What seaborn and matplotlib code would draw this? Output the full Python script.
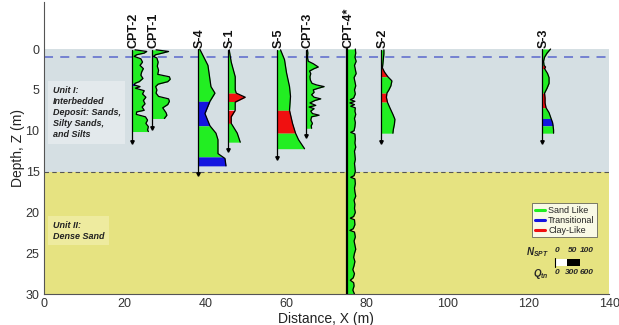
import numpy as np
import matplotlib
matplotlib.use('Agg')
import matplotlib.pyplot as plt
from matplotlib.lines import Line2D
import seaborn as sns

sns.set_style('white')
plt.rcParams['font.family'] = ['Liberation Sans', 'DejaVu Sans']
plt.rcParams['mathtext.fontset'] = 'custom'
plt.rcParams['mathtext.it'] = 'Liberation Sans:italic:bold'
plt.rcParams['mathtext.rm'] = 'Liberation Sans:italic:bold'

# ---- data ---------------------------------------------------------------
# SPT profiles: depth (m), N_SPT ; CPT profiles: depth (m), Q_tn
s4_x = 38.2
s4_z = [0.0, 2.0, 4.6, 5.4, 6.4, 7.9, 9.4, 10.3, 11.1, 12.8, 13.4, 14.3]
s4_n = [7, 40, 52, 68, 48, 28, 48, 72, 80, 80, 108, 112]
s4_cls = [(0.0, 6.4, 'sand'), (6.4, 9.4, 'trans'), (9.4, 13.2, 'sand'), (13.2, 14.3, 'trans')]

s1_x = 45.7
s1_z = [0.1, 1.6, 3.4, 5.0, 5.4, 5.9, 6.5, 7.5, 8.3, 9.1, 10.3, 11.4]
s1_n = [4, 12, 28, 28, 32, 68, 28, 28, 12, 12, 36, 48]
s1_cls = [(0.1, 5.4, 'sand'), (5.4, 6.5, 'clay'), (6.5, 7.5, 'sand'), (7.5, 9.1, 'clay'), (9.1, 11.4, 'sand')]

s5_x = 57.9
s5_z = [0.1, 1.3, 2.9, 4.6, 5.8, 7.5, 9.1, 10.3, 11.1, 12.2]
s5_n = [12, 28, 36, 48, 52, 48, 60, 72, 84, 108]
s5_cls = [(0.1, 7.5, 'sand'), (7.5, 10.3, 'clay'), (10.3, 12.2, 'sand')]

s2_x = 83.5
s2_z = [0.1, 0.6, 1.2, 1.8, 2.3, 2.8, 3.4, 3.9, 4.5, 5.0, 5.4, 5.9, 6.5, 7.2, 8.0, 8.6, 9.2, 9.8, 10.3]
s2_n = [12, 12, 10, 8, 6, 14, 28, 44, 40, 32, 24, 22, 26, 36, 48, 56, 54, 50, 48]
s2_cls = [(0.1, 2.3, 'sand'), (2.3, 3.4, 'clay'), (3.4, 5.4, 'sand'), (5.4, 6.5, 'clay'), (6.5, 10.3, 'sand')]

s3_x = 123.4
s3_z = [0.0, 0.5, 1.0, 1.5, 2.0, 2.2, 2.4, 3.0, 3.5, 4.2, 4.8, 5.4, 6.0, 6.6, 7.2, 7.8, 8.5, 9.0, 9.4, 9.9, 10.3]
s3_n = [34, 20, 10, 6, 8, 14, 10, 22, 28, 28, 20, 10, 12, 12, 16, 28, 36, 42, 44, 46, 46]
s3_cls = [(0.0, 2.0, 'sand'), (2.0, 2.4, 'clay'), (2.4, 5.4, 'sand'), (5.4, 7.2, 'clay'),
          (7.2, 8.5, 'sand'), (8.5, 9.4, 'trans'), (9.4, 10.3, 'sand')]

cpt2_x = 21.8
cpt2_z = [0.1, 0.3, 0.5, 0.7, 0.9, 1.2, 1.6, 2.0, 2.4, 2.8, 3.2, 3.6, 4.0, 4.2, 4.4, 4.6,
          4.8, 5.1, 5.5, 5.9, 6.3, 6.7, 7.1, 7.5, 7.7, 8.0, 8.3, 8.7, 9.1, 9.5, 9.9, 10.1]
cpt2_q = [80, 360, 300, 120, 60, 220, 260, 200, 280, 240, 220, 270, 180, 80, 60, 200,
          90, 300, 260, 340, 280, 320, 250, 300, 120, 110, 330, 380, 340, 400, 380, 400]
cpt2_cls = [(0.1, 4.2, 'sand'), (4.2, 4.5, 'trans'), (4.5, 10.1, 'sand')]

cpt1_x = 26.8
cpt1_z = [0.1, 0.3, 0.5, 0.7, 0.9, 1.1, 1.6, 2.1, 2.6, 3.1, 3.4, 3.7, 4.0, 4.3, 4.6, 5.0,
          5.4, 5.8, 6.1, 6.4, 6.8, 7.2, 7.5, 7.8, 8.1, 8.5]
cpt1_q = [100, 400, 250, 90, 40, 120, 150, 130, 160, 140, 420, 440, 380, 150, 90, 120,
          100, 160, 400, 420, 380, 260, 300, 340, 360, 300]
cpt1_cls = [(0.1, 0.75, 'sand'), (0.75, 1.0, 'trans'), (1.0, 8.5, 'sand')]

cpt3_x = 64.9
cpt3_z = [0.1, 0.5, 1.0, 1.5, 1.8, 2.0, 2.2, 2.4, 2.7, 3.0, 3.4, 3.8, 4.2, 4.4, 4.6, 4.8, 5.0,
          5.3, 5.6, 5.9, 6.1, 6.3, 6.6, 6.9, 7.1, 7.3, 7.6, 7.9, 8.1, 8.3, 8.7, 9.1, 9.4, 9.7]
cpt3_q = [40, 50, 40, 60, 180, 240, 300, 200, 90, 120, 100, 110, 150, 260, 440, 300, 180,
          200, 140, 200, 360, 220, 100, 240, 80, 200, 120, 160, 320, 140, 120, 160, 130, 140]
cpt3_cls = [(0.1, 9.7, 'sand')]

cpt4_x = 75.0
cpt4_z = [0.0, 0.5, 1.0, 1.5, 2.0, 2.5, 3.0, 3.5, 4.0, 4.5, 5.0, 5.5, 6.0, 6.2, 6.4, 6.6, 6.8,
          7.0, 7.2, 7.6, 8.0, 8.5, 9.0, 9.5, 10.0, 10.2, 10.4, 11.0, 11.5, 12.0, 12.5, 13.0,
          13.5, 14.0, 14.5, 15.0, 15.5, 15.7, 15.9, 16.5, 17.0, 17.5, 18.0, 18.5, 19.0, 19.5,
          20.0, 20.5, 20.7, 20.9, 21.5, 22.0, 22.2, 22.4, 23.0, 23.5, 24.0, 24.5, 25.0, 25.5,
          26.0, 26.5, 27.0, 27.5, 28.0, 28.3, 28.6, 29.0, 29.5, 30.0]
cpt4_q = [210, 220, 200, 230, 190, 210, 230, 180, 200, 220, 190, 210, 170, 90, 200, 80, 190,
          100, 210, 200, 220, 190, 210, 200, 180, 100, 200, 210, 200, 220, 190, 200,
          210, 190, 200, 210, 180, 100, 200, 210, 190, 200, 220, 180, 200, 190,
          210, 170, 90, 190, 200, 160, 80, 190, 210, 180, 200, 220, 190, 170,
          200, 180, 150, 190, 160, 90, 170, 180, 150, 190]
cpt4_cls = [(0.0, 30.0, 'sand')]

colors = {'sand': '#22ee22', 'trans': '#1515e0', 'clay': '#f01010'}
legend_names = ['Sand Like', 'Transitional', 'Clay-Like']
spt_ticks = ['0', '50', '100']
cpt_ticks = ['0', '300', '600']
spt_scale = 6.2 / 100.0   # m per blow
cpt_scale = 6.2 / 600.0   # m per unit Q_tn

profiles = [
    ('CPT-2', cpt2_x, cpt2_z, cpt2_q, cpt_scale, cpt2_cls, 11.4),
    ('CPT-1', cpt1_x, cpt1_z, cpt1_q, cpt_scale, cpt1_cls, 9.7),
    ('S-4', s4_x, s4_z, s4_n, spt_scale, s4_cls, 15.3),
    ('S-1', s1_x, s1_z, s1_n, spt_scale, s1_cls, 12.4),
    ('S-5', s5_x, s5_z, s5_n, spt_scale, s5_cls, 13.4),
    ('CPT-3', cpt3_x, cpt3_z, cpt3_q, cpt_scale, cpt3_cls, 10.7),
    ('CPT-4*', cpt4_x, cpt4_z, cpt4_q, cpt_scale, cpt4_cls, None),
    ('S-2', s2_x, s2_z, s2_n, spt_scale, s2_cls, 11.4),
    ('S-3', s3_x, s3_z, s3_n, spt_scale, s3_cls, 11.4),
]

fig = plt.figure(figsize=(6.19, 3.25), dpi=100)
ax = fig.add_axes([0.0705, 0.095, 0.9135, 0.9])

# soil units
ax.axhspan(0, 15, color='#d5dfe3', lw=0, zorder=0)
ax.axhspan(15, 30, color='#e6e381', lw=0, zorder=0)
ax.axhline(1.0, color='#6c7ad0', lw=1.3, dashes=(5, 4), zorder=1)
ax.axhline(15.0, color='#555555', lw=0.8, dashes=(4, 3), zorder=1)

for name, x0, z, v, sc, cls, bot in profiles:
    z = np.asarray(z, float)
    w = x0 + np.asarray(v, float) * sc
    for top, btm, c in cls:
        m = (z > top) & (z < btm)
        zz = np.concatenate([[top], z[m], [btm]])
        ww = np.concatenate([[np.interp(top, z, w)], w[m], [np.interp(btm, z, w)]])
        ax.fill_betweenx(zz, x0, ww, color=colors[c], lw=0, zorder=2)
    sns.lineplot(x=w, y=z, sort=False, estimator=None, color='black', lw=0.9, ax=ax, zorder=3)
    if bot is None:
        ax.plot([x0, x0], [z[0], 30], color='black', lw=1.6, zorder=4)
    else:
        ax.plot([x0, x0], [z[0], bot], color='black', lw=0.9, zorder=4)
        ax.plot([x0], [bot], marker='v', ms=2.5, color='black', zorder=4)
    ax.text(x0 + 0.4, -0.15, name, rotation=90, ha='center', va='bottom',
            fontsize=9, fontweight='bold', color='#111111')

# unit annotations
ax.text(2.2, 4.5, 'Unit I:\nInterbedded\nDeposit: Sands,\nSilty Sands,\nand Silts',
        fontsize=6.5, fontweight='bold', fontstyle='italic', va='top', ha='left',
        linespacing=1.3, color='#222222',
        bbox=dict(boxstyle='square,pad=0.5', fc='#e3e9ec', ec='none'))
ax.text(2.2, 21.0, 'Unit II:\nDense Sand', fontsize=6.5, fontweight='bold',
        fontstyle='italic', va='top', ha='left', linespacing=1.3, color='#222222',
        bbox=dict(boxstyle='square,pad=0.5', fc='#eeeb9f', ec='none'))

# legend
handles = [Line2D([0], [0], color=colors[k], lw=2.2) for k in ['sand', 'trans', 'clay']]
leg = ax.legend(handles, legend_names, loc='upper right', bbox_to_anchor=(0.979, 0.311),
                borderaxespad=0, fontsize=6.5, handlelength=1.2, handletextpad=0.3,
                labelspacing=0.1, borderpad=0.3, frameon=True, fancybox=False)
leg.get_frame().set_edgecolor('#444444')
leg.get_frame().set_linewidth(0.6)

# scale bar for N_SPT / Q_tn
sx = 126.6
ax.add_patch(plt.Rectangle((sx, 25.7), 50 * spt_scale, 0.9, fc='white', ec='none', zorder=5))
ax.add_patch(plt.Rectangle((sx + 50 * spt_scale, 25.7), 50 * spt_scale, 0.9, fc='black', ec='none', zorder=5))
ax.plot([sx, sx], [25.6, 26.7], color='black', lw=0.8, zorder=6)
ax.text(125.0, 24.9, r'$N_{SPT}$', fontsize=7, ha='right', va='center')
ax.text(125.0, 27.5, r'$Q_{tn}$', fontsize=7, ha='right', va='center')
for xt, lab_n, lab_q in zip([127.2, 130.9, 134.5], spt_ticks, cpt_ticks):
    ax.text(xt, 24.7, lab_n, fontsize=6, fontweight='bold',
            fontstyle='italic', ha='center', va='center')
    ax.text(xt, 27.4, lab_q, fontsize=6, fontweight='bold',
            fontstyle='italic', ha='center', va='center')

ax.set_xlim(0, 140)
ax.set_ylim(30, -5.8)
ax.set_xticks(range(0, 141, 20))
ax.set_yticks(range(0, 31, 5))
ax.tick_params(direction='in', length=3, labelsize=9, colors='#333333', pad=3)
ax.set_xlabel('Distance, X (m)', fontsize=10, color='#222222', labelpad=1)
ax.set_ylabel('Depth, Z (m)', fontsize=10, color='#222222', labelpad=0)
for s in ['top', 'right']:
    ax.spines[s].set_visible(False)
for s in ['left', 'bottom']:
    ax.spines[s].set_color('#555555')
    ax.spines[s].set_linewidth(0.8)

fig.savefig('out.png', dpi=100)
